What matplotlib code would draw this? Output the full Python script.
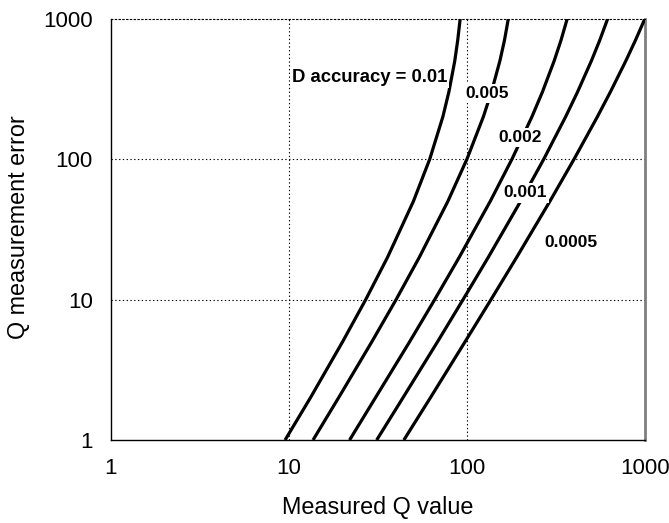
import matplotlib.pyplot as plt

plt.rcParams['font.family'] = ['Liberation Sans', 'DejaVu Sans']

# Q measurement error levels (y) and measured Q value read for each D accuracy curve (x)
q_error = [1, 2, 5, 10, 20, 50, 100, 200, 300, 500, 700, 1000]
q_d0100 = [9.51, 13.2, 20.0, 27.0, 35.8, 50.0, 61.8, 73.2, 79.1, 85.4, 88.7, 91.6]
q_d0050 = [13.65, 19.0, 29.2, 40.0, 54.0, 78.1, 100.0, 123.6, 137.2, 153.1, 162.4, 170.8]
q_d0020 = [21.9, 30.6, 47.6, 65.9, 90.5, 135.1, 179.1, 231.7, 265.3, 309.0, 337.4, 366.0]
q_d0010 = [31.1, 43.7, 68.3, 95.1, 131.8, 200.0, 270.2, 358.3, 417.9, 500.0, 556.9, 618.0]
q_d0005 = [44.2, 62.3, 97.5, 136.5, 190.3, 292.2, 400.0, 540.3, 639.0, 780.8, 883.9, 1000.0]

curve_labels = ['D accuracy = 0.01', '0.005', '0.002', '0.001', '0.0005']
ticks = [1, 10, 100, 1000]

fig = plt.figure(figsize=(6.69, 5.23), dpi=100)
ax = fig.add_axes([0.1659, 0.1587, 0.7982, 0.8059])

for xs in [q_d0100, q_d0050, q_d0020, q_d0010, q_d0005]:
    ax.plot(xs, q_error, color='black', linewidth=2.3, solid_capstyle='butt', zorder=3)

ax.set_xscale('log')
ax.set_yscale('log')
ax.set_xlim(1, 1000)
ax.set_ylim(1, 1000)
ax.set_xticks(ticks)
ax.set_yticks(ticks)
ax.set_xticklabels([str(t) for t in ticks])
ax.set_yticklabels([str(t) for t in ticks])
ax.minorticks_off()
ax.tick_params(length=0, labelsize=16, pad=13)

dots = (0, (1.2, 2.2))
for t in [10, 100]:
    ax.axvline(t, color='black', linewidth=0.8, linestyle=dots, zorder=1)
    ax.axhline(t, color='black', linewidth=0.8, linestyle=dots, zorder=1)

ax.spines['left'].set_linewidth(1)
ax.spines['bottom'].set_linewidth(1)
ax.spines['right'].set_color('#7f7f7f')
ax.spines['right'].set_linewidth(2)
ax.spines['top'].set_linestyle(dots)
ax.spines['top'].set_linewidth(0.8)

box = dict(facecolor='white', edgecolor='none', pad=1.5)
ax.text(10.35, 383, curve_labels[0], fontsize=13.3, fontweight='bold',
        ha='left', va='center', bbox=box, zorder=4)
ax.text(130, 292, curve_labels[1], fontsize=12.5, fontweight='bold',
        ha='center', va='center', bbox=box, zorder=4)
ax.text(199, 143, curve_labels[2], fontsize=12.5, fontweight='bold',
        ha='center', va='center', bbox=box, zorder=4)
ax.text(213, 57.3, curve_labels[3], fontsize=12.5, fontweight='bold',
        ha='center', va='center', bbox=box, zorder=4)
ax.text(384, 25.3, curve_labels[4], fontsize=12.5, fontweight='bold',
        ha='center', va='center', bbox=box, zorder=4)

ax.set_xlabel('Measured Q value', fontsize=16.8, va='center')
ax.set_ylabel('Q measurement error', fontsize=16.8, va='center')
ax.xaxis.set_label_coords(0.5, -0.161)
ax.yaxis.set_label_coords(-0.173, 0.506)

fig.savefig('out.png', dpi=100)
